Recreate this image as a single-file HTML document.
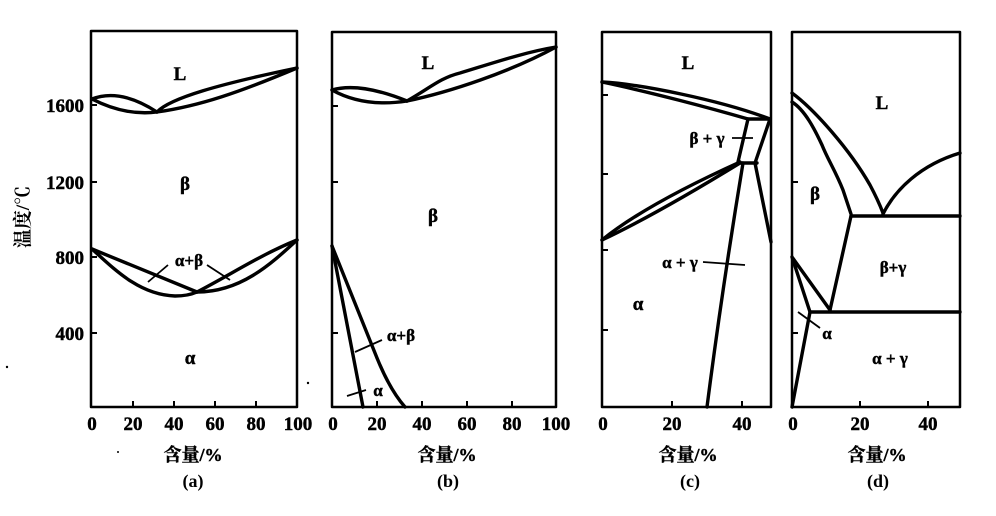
<!DOCTYPE html>
<html><head><meta charset="utf-8"><style>
html,body{margin:0;padding:0;background:#fff;}
svg{display:block;}
text{font-family:"Liberation Serif","Noto Serif CJK SC",serif;font-weight:bold;fill:#000;}
.cj{font-family:"Liberation Serif","Noto Serif CJK SC","Noto Sans CJK SC",serif;font-weight:bold;}
.hv{stroke:#000;stroke-width:0.45;}
</style></head><body>
<svg width="996" height="516" viewBox="0 0 996 516" xmlns="http://www.w3.org/2000/svg">
<g fill="none" stroke="#000" stroke-width="2.5" stroke-linejoin="round">
<rect x="91" y="31" width="206" height="376"/>
<rect x="332" y="32" width="224" height="375"/>
<rect x="602" y="32" width="169" height="375"/>
<rect x="792" y="32" width="168" height="375"/>
</g>
<!-- ticks -->
<g stroke="#000" stroke-width="2">
<path d="M91,105h6M91,182h6M91,257h6M91,333h6"/>
<path d="M133,407v-6M174,407v-6M215,407v-6M256,407v-6"/>
<path d="M332,106h6M332,182h6M332,333h6"/>
<path d="M377,407v-6M422,407v-6M467,407v-6M512,407v-6"/>
<path d="M602,95h6M602,174h6M602,250h6M602,330h6"/>
<path d="M672,407v-6M742,407v-6"/>
<path d="M792,182h6M792,333h6"/>
<path d="M860,407v-6M928,407v-6"/>
</g>
<g fill="none" stroke="#000" stroke-width="3.4" stroke-linecap="round" stroke-linejoin="round">
<!-- (a) -->
<path d="M92,99 Q120,88 157,112"/>
<path d="M92,99 Q125,116 157,112"/>
<path d="M157,112 C170,98 220,84 297,68"/>
<path d="M157,112 C200,106 240,92 297,68"/>
<path d="M92,249 L197,292"/>
<path d="M92,249 C115,270 140,295 175,296 Q188,296 197,292"/>
<path d="M197,292 C230,275 260,255 297,240"/>
<path d="M197,292 C240,292 270,265 297,240"/>
<!-- (b) -->
<path d="M332,90 Q360,82 407,101"/>
<path d="M332,90 C350,100 375,106 407,101"/>
<path d="M407,101 C430,88 440,78 460,73 C490,64 525,52 556,47"/>
<path d="M407,101 C450,92 510,72 556,47"/>
<path d="M332,246 L363,407"/>
<path d="M332,246 L377,358 Q390,390 405,407"/>
<!-- (c) -->
<path d="M602,82 C640,84 720,100 770,119"/>
<path d="M602,82 C650,92 710,108 748,119"/>
<path d="M748,119 L770,119 M748,119 L738,162 M770,119 L755,163 M738,163 L757,163"/>
<path d="M602,240 Q645,205 740,162"/>
<path d="M602,240 Q655,215 740,163"/>
<path d="M743,163 Q722,290 707,407"/>
<path d="M755,163 L771,242"/>
<!-- (d) -->
<path d="M792,93 C815,110 850,150 870,185 Q878,200 883,213"/>
<path d="M792,102 C805,110 815,130 822,145 C828,160 835,170 843,190 L851,214"/>
<path d="M851,216 L960,216"/>
<path d="M883,214 C895,190 920,165 960,153"/>
<path d="M851,216 L830,310"/>
<path d="M810,312 L960,312"/>
<path d="M792,257 L830,310 M792,257 L810,312 L792,407"/>
</g>
<!-- leader lines -->
<g stroke="#000" stroke-width="1.8" fill="none">
<path d="M148,282 L168,265 M207,265 L230,280"/>
<path d="M355,352 L382,340 M347,396 L366,390"/>
<path d="M732,138 L753,138 M703,262 L745,265"/>
<path d="M798,312 L820,328"/>
</g>
<g fill="#000">
<circle cx="7" cy="367" r="1.2"/><circle cx="308" cy="383" r="1.2"/><circle cx="118" cy="452" r="1"/>
</g>
<!-- y labels -->
<g font-size="19" text-anchor="end" class="hv">
<text x="84" y="112">1600</text>
<text x="84" y="189">1200</text>
<text x="84" y="264">800</text>
<text x="84" y="340">400</text>
</g>
<text class="cj" font-size="19" text-anchor="middle" transform="translate(29,217) rotate(-90)">温度/℃</text>
<!-- x labels -->
<g font-size="19" text-anchor="middle" class="hv">
<text x="92" y="430">0</text><text x="133" y="430">20</text><text x="174" y="430">40</text><text x="215" y="430">60</text><text x="256" y="430">80</text><text x="298" y="430">100</text>
<text x="333" y="430">0</text><text x="377" y="430">20</text><text x="422" y="430">40</text><text x="467" y="430">60</text><text x="512" y="430">80</text><text x="556" y="430">100</text>
<text x="603" y="430">0</text><text x="672" y="430">20</text><text x="742" y="430">40</text>
<text x="793" y="430">0</text><text x="860" y="430">20</text><text x="928" y="430">40</text>
</g>
<g class="cj hv" font-size="18" text-anchor="middle">
<text x="193" y="461">含量/%</text>
<text x="447" y="461">含量/%</text>
<text x="688" y="461">含量/%</text>
<text x="877" y="461">含量/%</text>
</g>
<g font-size="18" text-anchor="middle">
<text x="193" y="487" font-weight="normal">(a)</text>
<text x="448" y="487" font-weight="normal">(b)</text>
<text x="690" y="487" font-weight="normal">(c)</text>
<text x="878" y="487" font-weight="normal">(d)</text>
</g>
<!-- phase labels -->
<g font-size="19" text-anchor="middle" class="hv">
<text x="180" y="80">L</text>
<text x="185" y="190">β</text>
<text x="190" y="364">α</text>
<text x="428" y="69">L</text>
<text x="433" y="222">β</text>
<text x="688" y="69">L</text>
<text x="638" y="310">α</text>
<text x="882" y="109">L</text>
<text x="815" y="200">β</text>
</g>
<g font-size="17" text-anchor="middle" class="hv">
<text x="189" y="266">α+β</text>
<text x="401" y="341">α+β</text>
<text x="378" y="396">α</text>
<text x="707" y="144">β + γ</text>
<text x="680" y="268">α + γ</text>
<text x="893" y="273">β+γ</text>
<text x="890" y="364">α + γ</text>
<text x="827" y="339">α</text>
</g>
</svg>
</body></html>
